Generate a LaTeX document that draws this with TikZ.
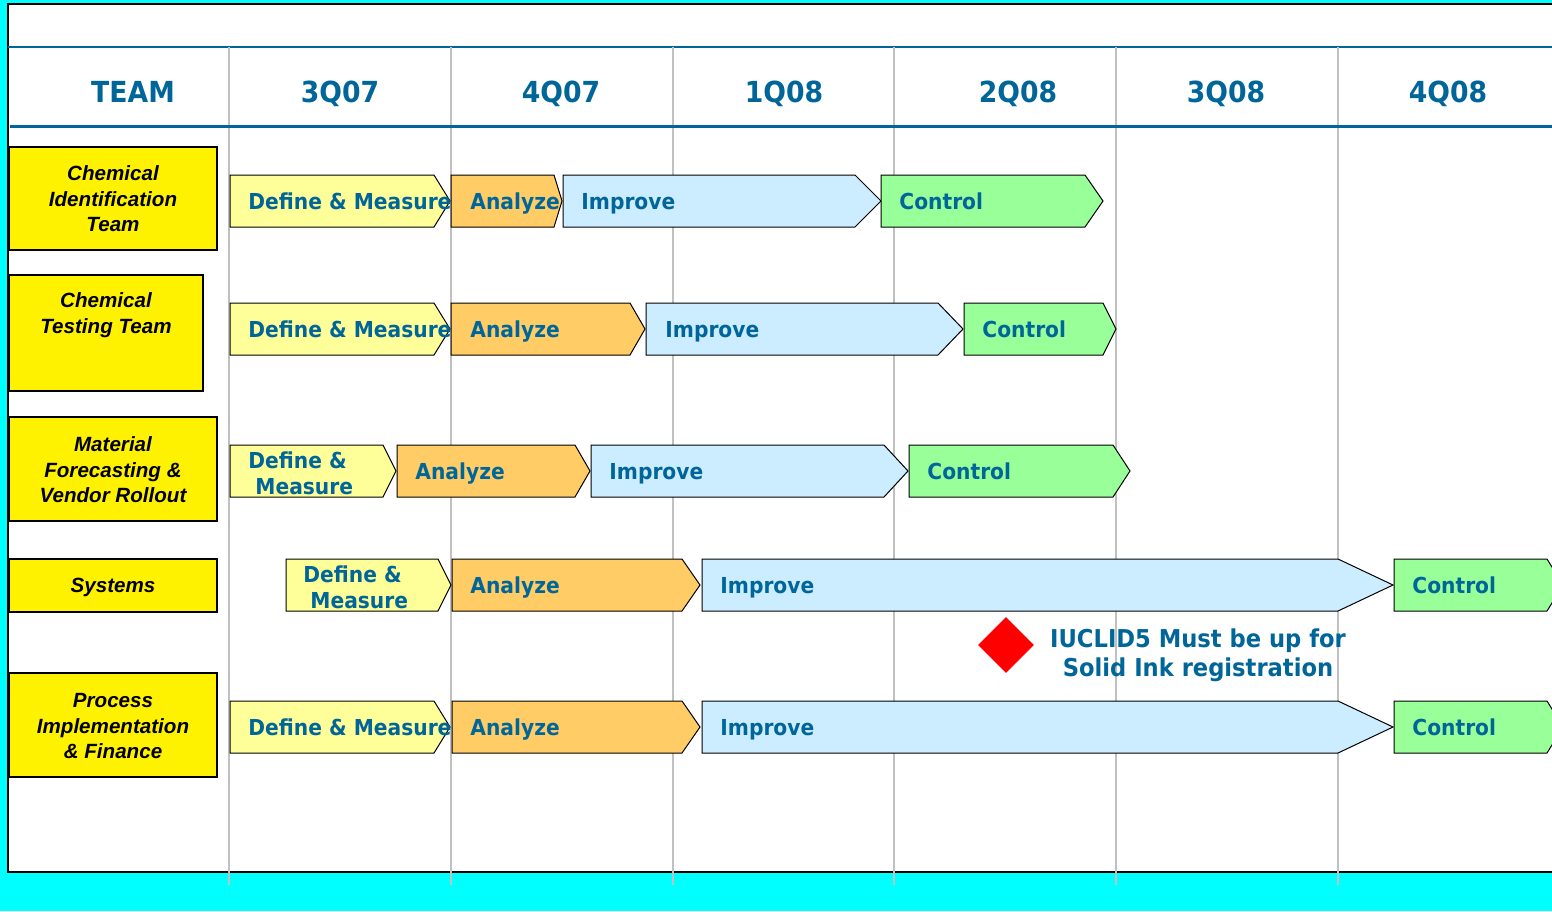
\documentclass[tikz,border=0pt]{standalone}
\usepackage{fontspec}
\setmainfont{Liberation Sans}
\newfontfamily\dvs{DejaVu Sans}[FakeStretch=0.92]
\usetikzlibrary{shapes.geometric}
\definecolor{cyanbg}{HTML}{00FFFF}
\definecolor{tblue}{HTML}{006699}
\definecolor{dmy}{HTML}{FFFF99}
\definecolor{anz}{HTML}{FFCC66}
\definecolor{imp}{HTML}{CCECFF}
\definecolor{ctl}{HTML}{99FF99}
\definecolor{gridgray}{HTML}{C0C0C0}
\newcommand\phasechev[5]{%
  \filldraw[fill=#5, draw=black, line width=0.5pt] (#1,#4-26) -- (#2,#4-26) -- (#3,#4) -- (#2,#4+26) -- (#1,#4+26) -- cycle;}
\tikzset{
  phase/.style={anchor=base west, inner sep=0pt, text=tblue, font=\dvs\bfseries\fontsize{11}{13}\selectfont},
  hdr/.style={anchor=base, inner sep=0pt, text=tblue, font=\dvs\bfseries\fontsize{14.5}{17}\selectfont},
  teambox/.style={fill=yellow, draw=black, line width=1pt},
  teamtext/.style={align=center, inner sep=0pt, text=black, font=\bfseries\itshape\fontsize{10.3}{12.75}\selectfont},
  note/.style={align=center, inner sep=0pt, text=tblue, font=\dvs\bfseries\fontsize{12.3}{14.5}\selectfont}
}
\begin{document}
\begin{tikzpicture}[x=0.5pt,y=-0.5pt]
\useasboundingbox (0,0) rectangle (1552,911);
\fill[cyanbg] (0,0) rectangle (1552,911);
\fill[white] (8,4) rectangle (1560,872);
\draw[black, line width=0.75pt] (1560,4) -- (8,4) -- (8,872) -- (1560,872);
% header separator
\draw[tblue, line width=0.6pt] (8,47) -- (1560,47);
% grid lines
\foreach \gx in {229,451,673,894,1116,1338}
  \draw[gridgray, line width=1pt] (\gx,47) -- (\gx,885);
\draw[tblue, line width=1.5pt] (10,126.5) -- (1560,126.5);
% headers
\node[hdr] (hteam) at (133,102) {TEAM};
\node[hdr] (h1) at (340,102) {3Q07};
\node[hdr] (h2) at (561,102) {4Q07};
\node[hdr] (h3) at (784,102) {1Q08};
\node[hdr] (h4) at (1018,102) {2Q08};
\node[hdr] (h5) at (1226,102) {3Q08};
\node[hdr] (h6) at (1448,102) {4Q08};
% team boxes
\draw[teambox] (9,147) rectangle (217,250);
\node[teamtext] (t1) at (113,199) {Chemical\\Identification\\Team};
\draw[teambox] (9,275) rectangle (203,391);
\node[teamtext] (t2) at (106,315) {Chemical\\Testing Team};
\draw[teambox] (9,417) rectangle (217,521);
\node[teamtext] (t3) at (113,470) {Material\\Forecasting \&\\Vendor Rollout};
\draw[teambox] (9,559) rectangle (217,612);
\node[teamtext] (t4) at (113,587) {Systems};
\draw[teambox] (9,673) rectangle (217,777);
\node[teamtext] (t5) at (113,726) {Process\\Implementation\\\& Finance};
% row 1
\phasechev{230}{434}{450}{201}{dmy}
\phasechev{451}{554}{562}{201}{anz}
\phasechev{563}{855}{881}{201}{imp}
\phasechev{881}{1085}{1103}{201}{ctl}
\node[phase] (dm1) at (248,209) {Define \& Measure};
\node[phase] (an1) at (470,209) {Analyze};
\node[phase] (im1) at (581,209) {Improve};
\node[phase] (ct1) at (899,209) {Control};
% row 2
\phasechev{230}{434}{450}{329}{dmy}
\phasechev{451}{630}{645}{329}{anz}
\phasechev{646}{938}{963}{329}{imp}
\phasechev{964}{1103}{1116}{329}{ctl}
\node[phase] (dm2) at (248,337) {Define \& Measure};
\node[phase] (an2) at (470,337) {Analyze};
\node[phase] (im2) at (665,337) {Improve};
\node[phase] (ct2) at (982,337) {Control};
% row 3
\phasechev{230}{383}{396}{471}{dmy}
\phasechev{397}{575}{590}{471}{anz}
\phasechev{591}{884}{908}{471}{imp}
\phasechev{909}{1113}{1130}{471}{ctl}
\node[phase] (dm3a) at (248,468) {Define \&};
\node[phase] (dm3b) at (255,494) {Measure};
\node[phase] (an3) at (415,479) {Analyze};
\node[phase] (im3) at (609,479) {Improve};
\node[phase] (ct3) at (927,479) {Control};
% row 4
\phasechev{286}{438}{451}{585}{dmy}
\phasechev{452}{682}{700}{585}{anz}
\phasechev{702}{1338}{1393}{585}{imp}
\phasechev{1394}{1547}{1563}{585}{ctl}
\node[phase] (dm4a) at (303,582) {Define \&};
\node[phase] (dm4b) at (310,608) {Measure};
\node[phase] (an4) at (470,593) {Analyze};
\node[phase] (im4) at (720,593) {Improve};
\node[phase] (ct4) at (1412,593) {Control};
% row 5
\phasechev{230}{434}{450}{727}{dmy}
\phasechev{452}{682}{700}{727}{anz}
\phasechev{702}{1338}{1393}{727}{imp}
\phasechev{1394}{1547}{1563}{727}{ctl}
\node[phase] (dm5) at (248,735) {Define \& Measure};
\node[phase] (an5) at (470,735) {Analyze};
\node[phase] (im5) at (720,735) {Improve};
\node[phase] (ct5) at (1412,735) {Control};
% milestone
\node[diamond, fill=red, minimum width=28pt, minimum height=28pt, inner sep=0pt] (ms) at (1006,645) {};
\node[note] (msnote) at (1198,655) {IUCLID5 Must be up for\\Solid Ink registration};
\end{tikzpicture}
\end{document}
